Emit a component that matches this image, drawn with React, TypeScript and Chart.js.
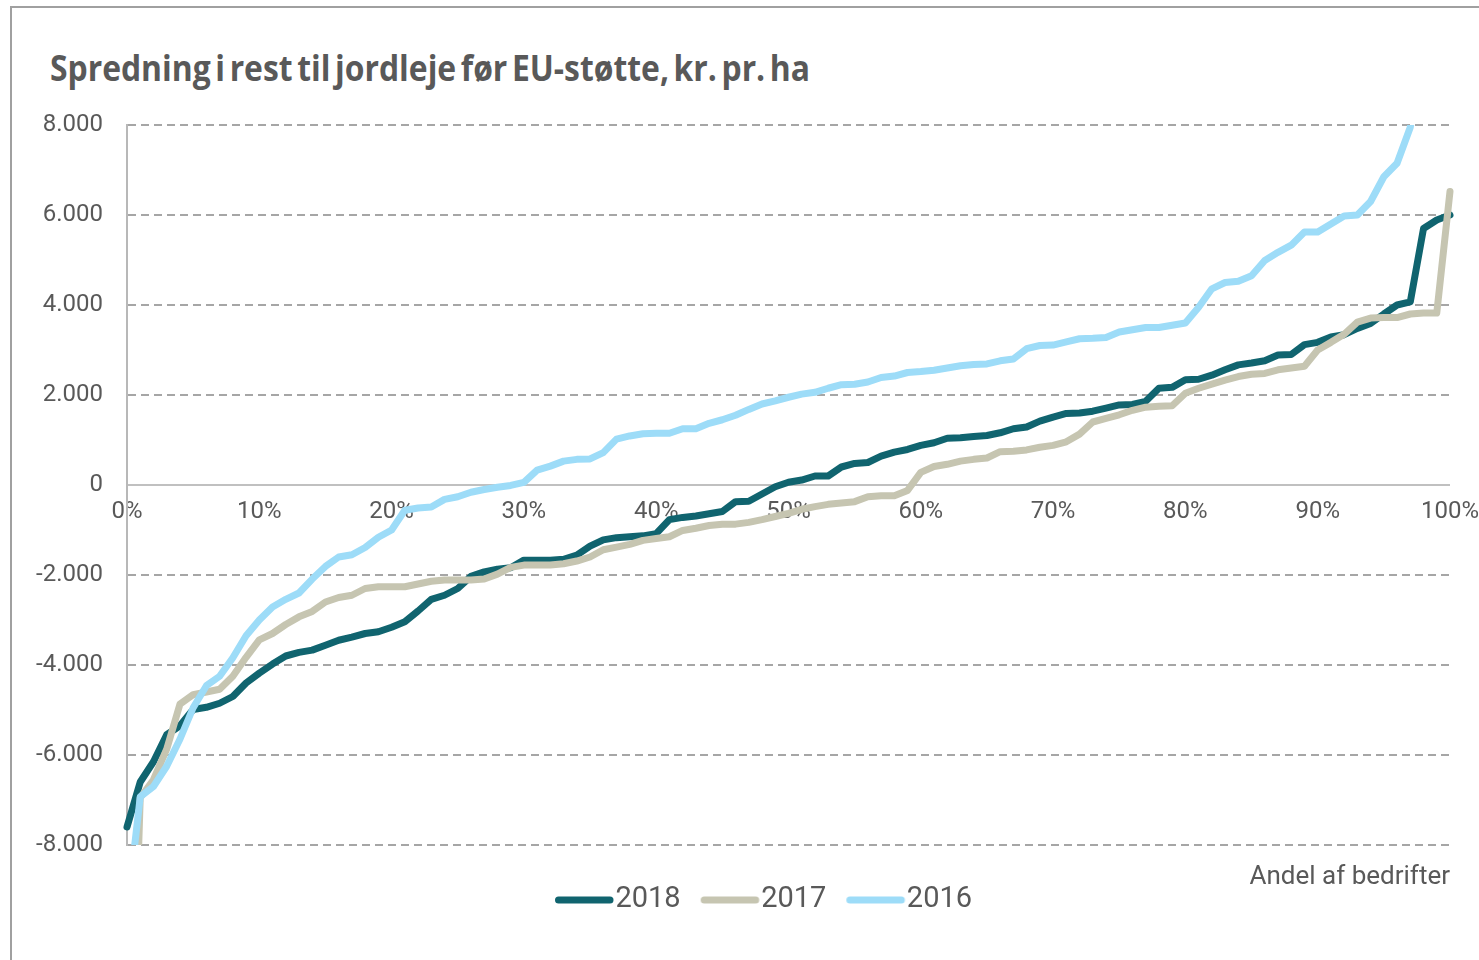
import React, { useEffect, useRef } from "react";
import { Chart, registerables } from "chart.js";

Chart.register(...registerables);

const chartTitle = "Spredning i rest til jordleje før EU-støtte, kr. pr. ha";
const xAxisTitle = "Andel af bedrifter";
const seriesNames = ["2018", "2017", "2016"];
const seriesColors = ["#10646f", "#c6c5b1", "#9ddcf8"];

// Andel af bedrifter (percent)
const shares = [
  0, 1, 2, 3, 4, 5, 6, 7, 8, 9, 10, 11, 12, 13, 14, 15, 16, 17, 18, 19, 20,
  21, 22, 23, 24, 25, 26, 27, 28, 29, 30, 31, 32, 33, 34, 35, 36, 37, 38, 39, 40,
  41, 42, 43, 44, 45, 46, 47, 48, 49, 50, 51, 52, 53, 54, 55, 56, 57, 58, 59, 60,
  61, 62, 63, 64, 65, 66, 67, 68, 69, 70, 71, 72, 73, 74, 75, 76, 77, 78, 79, 80,
  81, 82, 83, 84, 85, 86, 87, 88, 89, 90, 91, 92, 93, 94, 95, 96, 97, 98, 99, 100,
];

const values2018 = [
  -7600, -6600, -6150, -5550, -5350, -4990, -4940, -4850, -4700, -4400, -4180,
  -3980, -3800, -3720, -3670, -3560, -3450, -3380, -3300, -3260, -3160,
  -3040, -2800, -2540, -2450, -2300, -2030, -1930, -1870, -1840, -1670,
  -1670, -1670, -1650, -1560, -1360, -1220, -1170, -1150, -1130, -1080,
  -770, -720, -690, -640, -590, -370, -360, -200, -40, 60,
  110, 200, 200, 400, 480, 500, 640, 730, 790, 880,
  940, 1040, 1050, 1080, 1100, 1160, 1250, 1290, 1420, 1510,
  1590, 1600, 1640, 1710, 1780, 1790, 1860, 2150, 2170, 2340,
  2350, 2440, 2560, 2670, 2710, 2760, 2890, 2900, 3120, 3170,
  3290, 3340, 3480, 3590, 3800, 4000, 4070, 5700, 5890, 6000,
];

const values2017 = [
  -16000, -6950, -6550, -5870, -4870, -4660, -4600, -4540, -4250, -3830, -3440,
  -3300, -3100, -2930, -2810, -2600, -2500, -2450, -2300, -2260, -2260,
  -2260, -2200, -2140, -2110, -2110, -2110, -2090, -1980, -1830, -1780,
  -1780, -1780, -1750, -1690, -1600, -1440, -1380, -1320, -1230, -1190,
  -1150, -1010, -960, -900, -870, -870, -830, -770, -700, -630,
  -540, -480, -430, -400, -370, -260, -240, -240, -120, 280,
  410, 460, 530, 570, 600, 740, 750, 780, 840, 880,
  960, 1130, 1400, 1480, 1560, 1660, 1730, 1750, 1760, 2040,
  2150, 2240, 2330, 2410, 2460, 2480, 2560, 2600, 2640, 3000,
  3170, 3350, 3620, 3710, 3720, 3720, 3800, 3820, 3820, 6520,
];

const values2016 = [
  -9500, -6930, -6700, -6250, -5650, -4950, -4460, -4250, -3840, -3350, -3000,
  -2710, -2540, -2400, -2090, -1810, -1600, -1550, -1390, -1160, -1000,
  -560, -510, -490, -320, -260, -160, -100, -50, -10, 60,
  330, 420, 530, 570, 580, 720, 1020, 1090, 1140, 1150,
  1150, 1250, 1250, 1370, 1450, 1550, 1680, 1800, 1870, 1950,
  2020, 2060, 2150, 2230, 2240, 2290, 2390, 2420, 2500, 2520,
  2550, 2600, 2650, 2680, 2690, 2760, 2800, 3030, 3100, 3110,
  3180, 3250, 3260, 3280, 3400, 3450, 3500, 3500, 3550, 3600,
  3950, 4360, 4500, 4530, 4650, 4990, 5170, 5330, 5620, 5620,
  5800, 5980, 6000, 6300, 6850, 7150, 7950, 9800, 11500, 13000,
];

const seriesValues = [values2018, values2017, values2016];

const TEXT_COLOR = "#595959";
const TICK_FONT = "Roboto, 'Noto Sans', sans-serif";
const NARROW_FONT = "Roboto, 'Noto Sans', sans-serif";
const LINE_WIDTH = 7;

function formatThousands(v: number): string {
  const s = Math.abs(v).toString().replace(/\B(?=(\d{3})+(?!\d))/g, ".");
  return (v < 0 ? "-" : "") + s;
}

function legendLine(color: string): HTMLCanvasElement {
  const c = document.createElement("canvas");
  c.width = 80;
  c.height = 10;
  const g = c.getContext("2d")!;
  g.strokeStyle = color;
  g.lineWidth = LINE_WIDTH;
  g.lineCap = "round";
  g.beginPath();
  g.moveTo(20.5, 5);
  g.lineTo(72, 5);
  g.stroke();
  return c;
}

const yLabelAreaPlugin = {
  id: "yLabelArea",
  afterLayout(chart: any) {
    const y = chart.scales.y;
    if (y) y.left = 0;
  },
};

export default function App() {
  const canvasRef = useRef<HTMLCanvasElement | null>(null);
  const titleRef = useRef<HTMLDivElement | null>(null);

  useEffect(() => {
    const t = titleRef.current;
    if (t) {
      t.style.transform = "none";
      const w = t.getBoundingClientRect().width;
      if (w > 0) t.style.transform = `scaleX(${760 / w})`;
    }
    const canvas = canvasRef.current;
    if (!canvas) return;
    const images = seriesColors.map((c) => legendLine(c));
    const chart = new Chart(canvas, {
      type: "line",
      data: {
        labels: shares,
        datasets: seriesNames.map((name, i) => ({
          label: name,
          data: seriesValues[i],
          borderColor: seriesColors[i],
          backgroundColor: seriesColors[i],
          borderWidth: LINE_WIDTH,
          pointRadius: 0,
          pointHoverRadius: 0,
          tension: 0,
          fill: false,
          borderCapStyle: "round" as const,
          borderJoinStyle: "round" as const,
          order: 2 - i,
          clip: { left: 6, right: 6, top: 0, bottom: 0 },
        })),
      },
      plugins: [yLabelAreaPlugin],
      options: {
        animation: false,
        responsive: false,
        events: [],
        layout: { padding: { left: 64, right: 28, top: 117, bottom: 35.5 } },
        plugins: {
          tooltip: { enabled: false },
          title: { display: false },
          legend: {
            display: true,
            position: "bottom",
            align: "center",
            labels: {
              usePointStyle: true,
              pointStyleWidth: 46,
              padding: 20,
              color: TEXT_COLOR,
              font: { family: NARROW_FONT, size: 29 },
              generateLabels: (ch: any) => {
                const items = (Chart.defaults.plugins.legend.labels as any).generateLabels(ch);
                items.forEach((it: any) => {
                  it.pointStyle = images[it.datasetIndex];
                });
                return items;
              },
              sort: (a: any, b: any) => a.datasetIndex - b.datasetIndex,
            },
          },
        },
        scales: {
          x: {
            type: "linear",
            min: 0,
            max: 100,
            position: { y: 0 } as any,
            grid: { display: false, drawTicks: true, tickLength: 13 },
            border: { display: true, color: "#c0c0c0", width: 2 },
            ticks: {
              stepSize: 10,
              padding: 0,
              color: TEXT_COLOR,
              autoSkip: false,
              maxRotation: 0,
              font: { family: TICK_FONT, size: 24 },
              callback: (v: any) => `${v}%`,
            },
          },
          xTitle: {
            type: "linear",
            position: "bottom",
            min: 0,
            max: 100,
            display: true,
            grid: { display: false, drawTicks: false },
            border: { display: false },
            ticks: { display: false },
            title: {
              display: true,
              text: xAxisTitle,
              align: "end",
              color: TEXT_COLOR,
              font: { family: NARROW_FONT, size: 26, lineHeight: 1 },
              padding: { top: 19, bottom: -24.5 },
            },
          },
          y: {
            type: "linear",
            position: "left",
            min: -8000,
            max: 8000,
            grid: {
              drawTicks: false,
              lineWidth: 2,
              color: (ctx: any) => (ctx.tick && ctx.tick.value === 0 ? "rgba(0,0,0,0)" : "#a6a6a6"),
            },
            border: { display: true, color: "#b8b8b8", width: 2, dash: [8, 5] },
            ticks: {
              stepSize: 2000,
              padding: 24,
              color: TEXT_COLOR,
              font: { family: TICK_FONT, size: 24 },
              callback: (v: any) => formatThousands(Number(v)),
            },
            afterFit: (scale: any) => {
              scale.width = 51;
            },
          },
        },
      } as any,
    });
    return () => chart.destroy();
  }, []);

  return (
    <div
      style={{
        position: "absolute",
        left: 10,
        top: 6,
        width: 1469,
        height: 954,
        boxSizing: "border-box",
        borderLeft: "2px solid #a0a0a0",
        borderTop: "2px solid #a0a0a0",
        overflow: "hidden",
        background: "#ffffff",
      }}
    >
      <div
        ref={titleRef}
        style={{
          position: "absolute",
          left: 38,
          top: 42,
          fontFamily: "'Open Sans', Roboto, sans-serif",
          fontWeight: 700,
          fontSize: 35,
          lineHeight: 1,
          color: TEXT_COLOR,
          whiteSpace: "nowrap",
          wordSpacing: -4,
          transformOrigin: "left center",
          display: "inline-block",
        }}
      >
        {chartTitle}
      </div>
      <canvas
        ref={canvasRef}
        width={1467}
        height={952}
        style={{ position: "absolute", left: 0, top: 0, width: 1467, height: 952 }}
      />
    </div>
  );
}
